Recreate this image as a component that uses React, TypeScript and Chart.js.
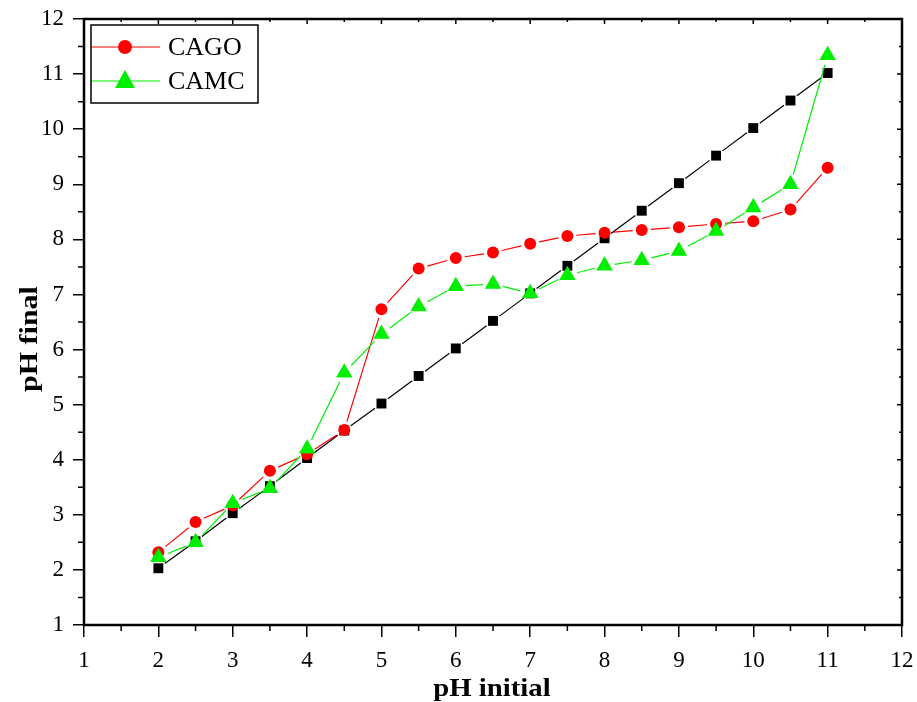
import React, { useEffect, useRef } from "react";
import { Chart, registerables } from "chart.js";

Chart.register(...registerables);

const phInitial = [2, 2.5, 3, 3.5, 4, 4.5, 5, 5.5, 6, 6.5, 7, 7.5, 8, 8.5, 9, 9.5, 10, 10.5, 11];
const blankFinal = [2.03, 2.52, 3.03, 3.52, 4.03, 4.53, 5.02, 5.52, 6.02, 6.52, 7.02, 7.52, 8.02, 8.52, 9.02, 9.52, 10.02, 10.52, 11.02];
const cagoFinal = [2.32, 2.87, 3.17, 3.8, 4.1, 4.54, 6.73, 7.47, 7.66, 7.76, 7.92, 8.06, 8.12, 8.17, 8.22, 8.28, 8.33, 8.54, 9.3];
const camcFinal = [2.23, 2.5, 3.21, 3.48, 4.2, 5.58, 6.28, 6.78, 7.15, 7.19, 7.02, 7.35, 7.52, 7.62, 7.79, 8.15, 8.58, 9.0, 11.34];
const xTicks = [1, 2, 3, 4, 5, 6, 7, 8, 9, 10, 11, 12];
const yTicks = [1, 2, 3, 4, 5, 6, 7, 8, 9, 10, 11, 12];

const SERIF = "'Liberation Serif', 'Times New Roman', serif";

const toPoints = (ys: number[]) => phInitial.map((x, i) => ({ x, y: ys[i] }));

// connecting lines that stop short of each marker
const gappedLinePlugin = {
  id: "gappedLine",
  beforeDatasetDraw(chart: any, args: any) {
    const ds = chart.data.datasets[args.index];
    const pts = args.meta.data;
    const gap = ds.lineGap ?? 8;
    const ctx = chart.ctx;
    ctx.save();
    ctx.strokeStyle = ds.borderColor;
    ctx.lineWidth = 1.2;
    ctx.beginPath();
    for (let i = 0; i < pts.length - 1; i++) {
      const a = pts[i];
      const b = pts[i + 1];
      const dx = b.x - a.x;
      const dy = b.y - a.y;
      const len = Math.hypot(dx, dy);
      if (len <= gap * 2) continue;
      const ux = dx / len;
      const uy = dy / len;
      ctx.moveTo(a.x + ux * gap, a.y + uy * gap);
      ctx.lineTo(b.x - ux * gap, b.y - uy * gap);
    }
    ctx.stroke();
    ctx.restore();
  },
};

const framePlugin = {
  id: "originFrame",
  afterDraw(chart: any) {
    const { ctx, chartArea: a, scales } = chart;
    const xs = scales.x;
    const ys = scales.y;
    ctx.save();
    ctx.strokeStyle = "#000";
    ctx.lineWidth = 2.5;
    ctx.strokeRect(a.left, a.top, a.right - a.left, a.bottom - a.top);
    ctx.lineWidth = 1.5;
    ctx.beginPath();
    for (let v = 1.5; v < 12; v += 1) {
      const px = xs.getPixelForValue(v);
      ctx.moveTo(px, a.bottom);
      ctx.lineTo(px, a.bottom + 6);
      ctx.moveTo(px, a.top);
      ctx.lineTo(px, a.top + 3);
      const py = ys.getPixelForValue(v);
      ctx.moveTo(a.left, py);
      ctx.lineTo(a.left - 6, py);
      ctx.moveTo(a.right, py);
      ctx.lineTo(a.right - 3, py);
    }
    for (const v of xTicks) {
      const px = xs.getPixelForValue(v);
      ctx.moveTo(px, a.top);
      ctx.lineTo(px, a.top + 5);
    }
    for (const v of yTicks) {
      const py = ys.getPixelForValue(v);
      ctx.moveTo(a.right, py);
      ctx.lineTo(a.right - 5, py);
    }
    ctx.stroke();

    // axis titles
    ctx.fillStyle = "#000";
    ctx.font = `bold 25px ${SERIF}`;
    ctx.textAlign = "center";
    ctx.textBaseline = "alphabetic";
    ctx.save();
    ctx.translate((a.left + a.right) / 2 - 1, 696);
    ctx.scale(1.15, 1);
    ctx.fillText("pH initial", 0, 0);
    ctx.restore();
    ctx.save();
    ctx.translate(37, 339);
    ctx.rotate(-Math.PI / 2);
    ctx.scale(1.2, 1);
    ctx.fillText("pH final", 0, 0);
    ctx.restore();

    // legend
    ctx.lineWidth = 1.5;
    ctx.strokeStyle = "#000";
    ctx.strokeRect(91, 25, 167, 78);
    const entries = [
      { label: "CAGO", color: "#ff0000", style: "circle", y: 47 },
      { label: "CAMC", color: "#00ee00", style: "triangle", y: 81 },
    ];
    ctx.font = `26px ${SERIF}`;
    ctx.textAlign = "left";
    ctx.textBaseline = "middle";
    for (const e of entries) {
      ctx.strokeStyle = e.color;
      ctx.lineWidth = 1;
      ctx.beginPath();
      ctx.moveTo(92, e.y);
      ctx.lineTo(160, e.y);
      ctx.stroke();
      ctx.fillStyle = e.color;
      ctx.beginPath();
      if (e.style === "circle") {
        ctx.arc(125, e.y, 7, 0, Math.PI * 2);
      } else {
        ctx.moveTo(125, e.y - 11);
        ctx.lineTo(135, e.y + 7);
        ctx.lineTo(115, e.y + 7);
        ctx.closePath();
      }
      ctx.fill();
      ctx.fillStyle = "#000";
      ctx.fillText(e.label, 168, e.y + 1);
    }
    ctx.restore();
  },
};

// keep label overflow from shrinking the plot area
const noOverflow = (s: any) => {
  s.paddingLeft = 0;
  s.paddingRight = 0;
  s.paddingTop = 0;
  s.paddingBottom = 0;
};

export default function App() {
  const ref = useRef<HTMLCanvasElement | null>(null);

  useEffect(() => {
    if (!ref.current) return;
    const chart = new Chart(ref.current, {
      type: "line",
      data: {
        datasets: [
          {
            label: "Blank",
            data: toPoints(blankFinal),
            borderColor: "#000",
            backgroundColor: "#000",
            showLine: false,
            pointStyle: "rect",
            pointRadius: 7,
            pointBorderWidth: 0,
            lineGap: 8,
            order: 2,
          },
          {
            label: "CAGO",
            data: toPoints(cagoFinal),
            borderColor: "#ff0000",
            backgroundColor: "#ff0000",
            showLine: false,
            pointStyle: "circle",
            pointRadius: 6,
            pointBorderWidth: 0,
            lineGap: 9,
            order: 1,
          },
          {
            label: "CAMC",
            data: toPoints(camcFinal),
            borderColor: "#00ee00",
            backgroundColor: "#00ee00",
            showLine: false,
            pointStyle: "triangle",
            pointRadius: 9.5,
            pointBorderWidth: 0,
            lineGap: 10,
            order: 0,
          },
        ],
      },
      options: {
        animation: false,
        responsive: false,
        layout: { padding: { top: 19, right: 15, left: 0, bottom: 0 } },
        plugins: { legend: { display: false }, tooltip: { enabled: false } },
        scales: {
          x: {
            type: "linear",
            min: 1,
            max: 12,
            afterBuildTicks: (s: any) => {
              s.ticks = xTicks.map((v) => ({ value: v }));
            },
            afterFit: (s: any) => {
              s.height = 77;
              noOverflow(s);
            },
            ticks: {
              color: "#000",
              font: { family: SERIF, size: 23 },
              padding: 10,
              maxRotation: 0,
            },
            grid: { drawOnChartArea: false, tickLength: 12, color: "#000", lineWidth: 1.5 },
            border: { display: false },
          },
          y: {
            type: "linear",
            min: 1,
            max: 12,
            afterBuildTicks: (s: any) => {
              s.ticks = yTicks.map((v) => ({ value: v }));
            },
            afterFit: (s: any) => {
              s.width = 84;
              noOverflow(s);
            },
            ticks: {
              color: "#000",
              font: { family: SERIF, size: 23 },
              padding: 9,
            },
            grid: { drawOnChartArea: false, tickLength: 11, color: "#000", lineWidth: 1.5 },
            border: { display: false },
          },
        },
      },
      plugins: [gappedLinePlugin, framePlugin],
    } as any);
    return () => chart.destroy();
  }, []);

  return (
    <div style={{ position: "absolute", left: 0, top: 0, width: 917, height: 702, background: "#fff" }}>
      <canvas ref={ref} width={917} height={702} style={{ width: 917, height: 702 }} />
    </div>
  );
}
